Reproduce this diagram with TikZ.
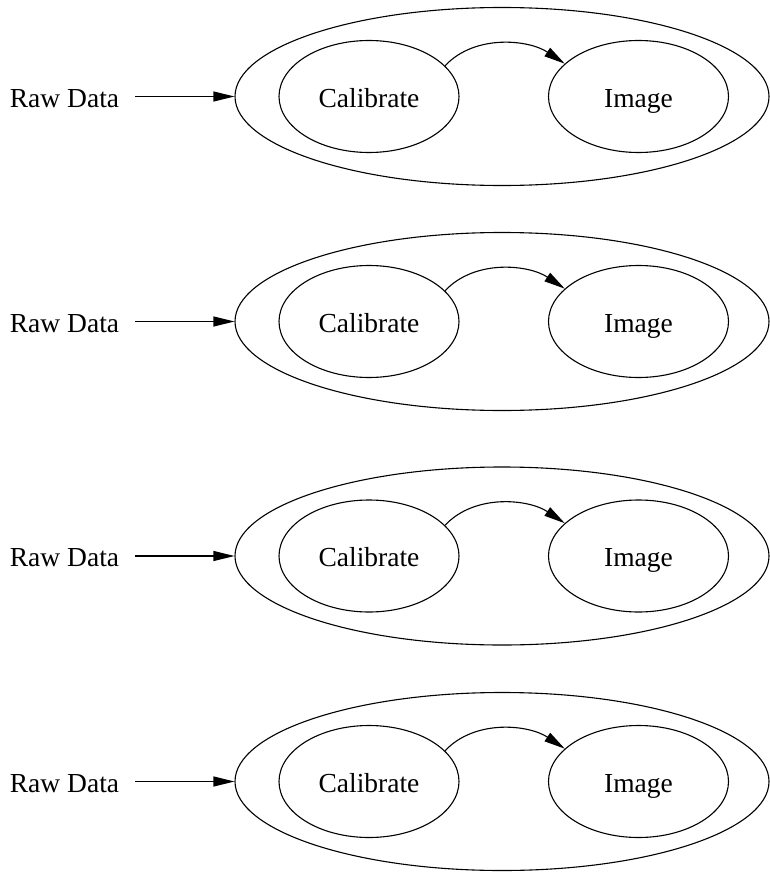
\documentclass[tikz,border=0pt]{standalone}
\usepackage{fontspec}
\setmainfont{Liberation Serif}
\usetikzlibrary{shapes.geometric,arrows.meta}
\begin{document}
\begin{tikzpicture}[x=1pt,y=1pt,
  every node/.style={font=\fontsize{27.5}{31}\selectfont},
  lbl/.style={inner sep=0pt, text height=21pt, text depth=0pt},
  group/.style={ellipse, draw, line width=1.1pt, minimum width=534pt,
                minimum height=178pt, inner sep=0pt},
  stage/.style={ellipse, draw, line width=1.1pt, minimum width=180pt,
                minimum height=112pt, inner sep=0pt, text height=21pt, text depth=0pt},
  flow/.style={line width=1.1pt, -{Triangle[length=21pt,width=10pt]}}]
\useasboundingbox (0,0) rectangle (769,-872);
% one pipeline per row: Raw Data feeds a group holding Calibrate -> Image
\foreach \i/\yc in {1/96.5, 2/321.5, 3/556, 4/781.5} {
  \node[group] (grp\i) at (502,-\yc) {};
  \node[stage] (cal\i) at (369,-\yc) {Calibrate};
  \node[stage] (img\i) at (638.5,-\yc) {Image};
  \node[lbl, minimum width=141pt] (raw\i) at (64.5,-\yc) {Raw Data};
  \draw[flow] (raw\i) -- (grp\i);
  \draw[flow] (cal\i.22) .. controls +(30,32) and +(-36,24) .. (img\i.156);
}
\end{tikzpicture}
\end{document}
